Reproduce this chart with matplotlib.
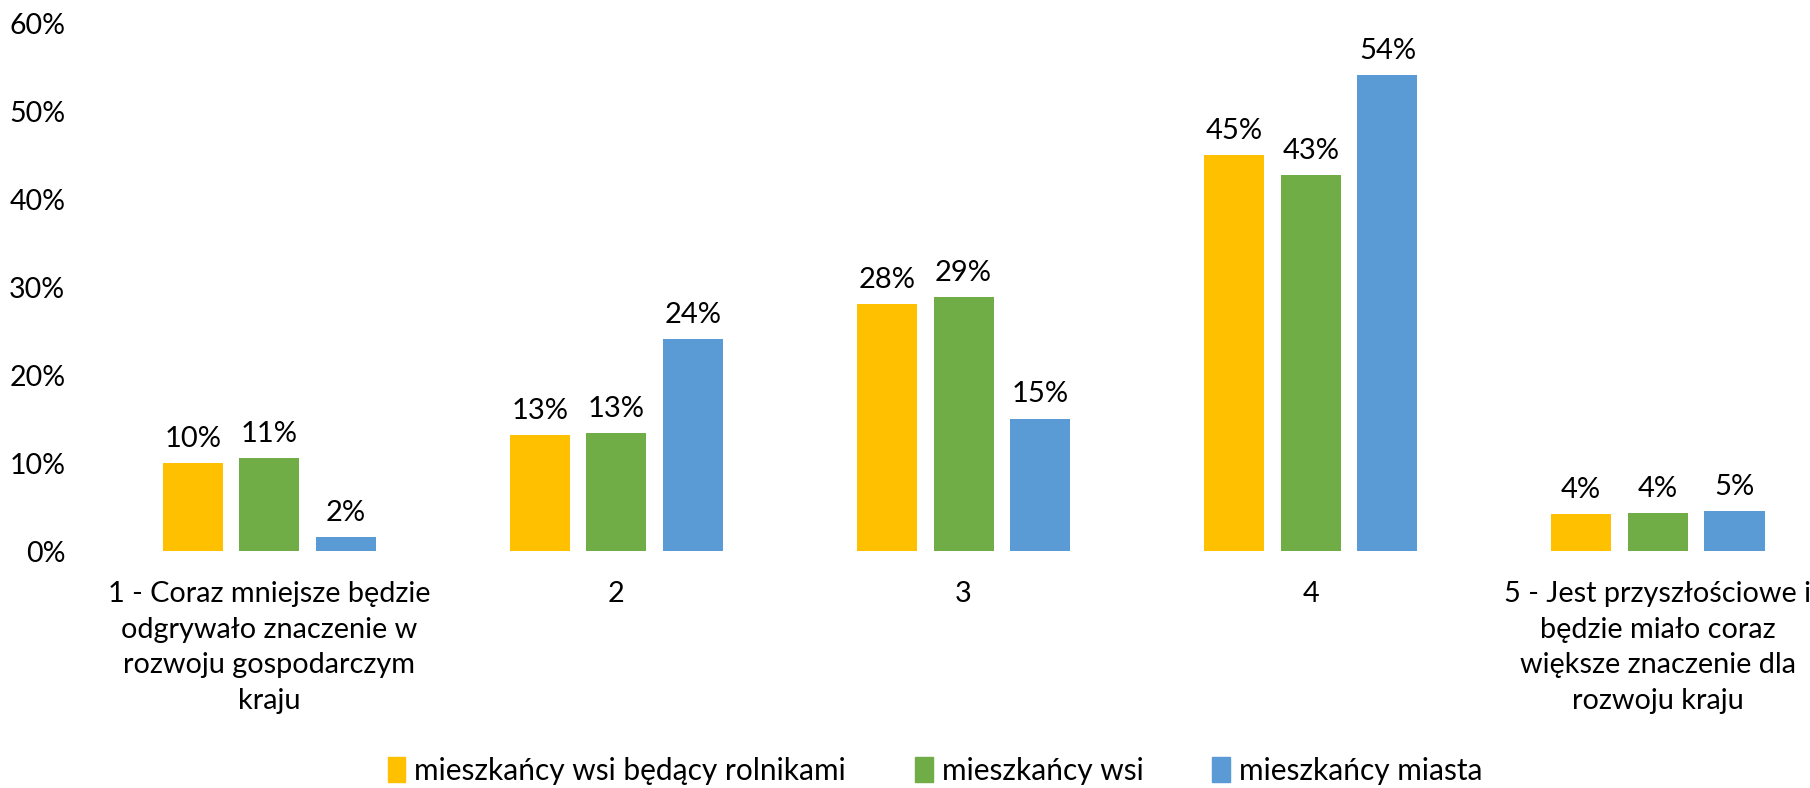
import matplotlib
matplotlib.use('Agg')
import matplotlib.pyplot as plt
import matplotlib.patches as mpatches
import numpy as np

categories = [
    '1 - Coraz mniejsze będzie\nodgrywało znaczenie w\nrozwoju gospodarczym\nkraju',
    '2',
    '3',
    '4',
    '5 - Jest przyszłościowe i\nbędzie miało coraz\nwiększe znaczenie dla\nrozwoju kraju',
]
series_names = ['mieszkańcy wsi będący rolnikami', 'mieszkańcy wsi', 'mieszkańcy miasta']
rolnicy = [10.0, 13.2, 28.1, 45.0, 4.3]
wies = [10.6, 13.4, 28.9, 42.7, 4.4]
miasto = [1.6, 24.1, 15.1, 54.1, 4.6]
colors = ['#FFC000', '#70AD47', '#5B9BD5']
y_ticks = [0, 10, 20, 30, 40, 50, 60]

plt.rcParams['font.family'] = ['Lato', 'DejaVu Sans']
FS_CAT = 20.8    # category labels
FS_LEG = 21.5    # legend
FS_NUM = 21      # data labels
FS_TICK = 20.5   # y axis

fig = plt.figure(figsize=(18.10, 7.88), dpi=100)
ax = fig.add_axes([83 / 1568, 1 - 478 / 683, 1 - 83 / 1568, (478 - 20) / 683])

x = np.arange(len(categories))
pitch = 0.221
width = 0.173
for i, (vals, col) in enumerate(zip([rolnicy, wies, miasto], colors)):
    pos = x + (i - 1) * pitch
    bars = ax.bar(pos, vals, width=width, color=col, label=series_names[i])
    for b, v in zip(bars, vals):
        ax.annotate(f'{v:.0f}%', (b.get_x() + b.get_width() / 2, v),
                    xytext=(0, 8), textcoords='offset points',
                    ha='center', va='bottom', fontsize=FS_NUM, color='#000000')

ax.set_xlim(-0.5, -0.5 + (1568 - 83) / 300.7)
ax.set_ylim(0, 60)
ax.set_yticks(y_ticks)
ax.set_yticklabels([f'{t}%' for t in y_ticks], fontsize=FS_TICK)
ax.set_xticks(x)
ax.set_xticklabels(categories, fontsize=FS_CAT, linespacing=1.47)
ax.tick_params(axis='both', length=0)
ax.tick_params(axis='y', pad=22)
ax.tick_params(axis='x', pad=21)
for s in ax.spines.values():
    s.set_visible(False)

handles = [mpatches.Patch(color=c, label=n) for c, n in zip(colors, series_names)]
fig.legend(handles=handles, loc='center', bbox_to_anchor=(810 / 1568, 1 - 668 / 683),
           ncol=3, frameon=False, fontsize=FS_LEG, handlelength=0.6, handleheight=0.9,
           handletextpad=0.3, columnspacing=2.3)

fig.savefig('out.png', dpi=100)
